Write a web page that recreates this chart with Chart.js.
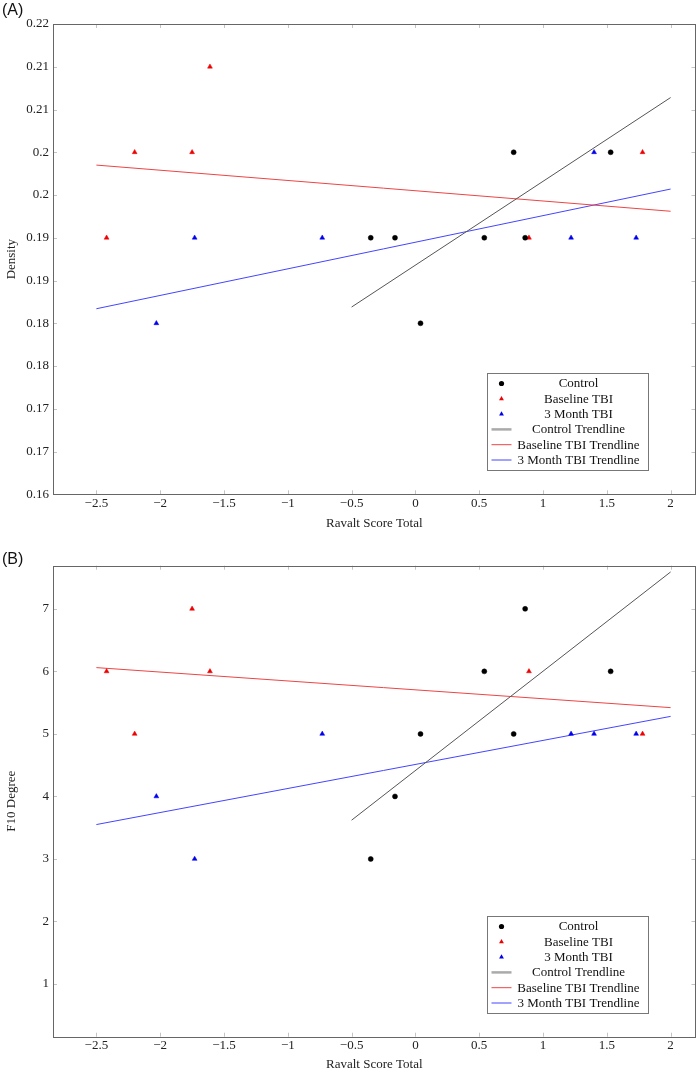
<!DOCTYPE html>
<html>
<head>
<meta charset="utf-8">
<script src="https://cdn.jsdelivr.net/npm/chart.js@4.4.1/dist/chart.umd.min.js"></script>
<style>
  body { margin: 0; background: #fff; }
  #page { position: relative; width: 700px; height: 1072px; overflow: hidden; }
  .panel { position: absolute; left: 0; width: 700px; }
  .tag { position: absolute; left: 2px; font: 16px "Liberation Sans", Arial, sans-serif; color: #111; }
</style>
</head>
<body>
<div id="page">
  <div class="panel" style="top:0;height:536px"><canvas id="chartA"></canvas></div>
  <div class="panel" style="top:530px;height:542px"><canvas id="chartB"></canvas></div>
  <div class="tag" style="top:1px">(A)</div>
  <div class="tag" style="top:550px">(B)</div>
</div>
<script>
// Ravalt scores (x) per group, same subjects in both panels
const xControl = [-0.35, -0.16, 0.04, 0.54, 0.77, 0.86, 1.53];
const xBaseline = [-2.42, -2.20, -1.75, -1.61, 0.89, 1.78];
const xMonth = [-2.03, -1.73, -0.73, 1.22, 1.40, 1.73];

// panel A - density
const densityControl = [0.19, 0.19, 0.18, 0.19, 0.20, 0.19, 0.20];
const densityBaseline = [0.19, 0.20, 0.20, 0.21, 0.19, 0.20];
const densityMonth = [0.18, 0.19, 0.19, 0.19, 0.20, 0.19];

// panel B - F10 degree
const degreeControl = [3, 4, 5, 6, 5, 7, 6];
const degreeBaseline = [6, 5, 7, 6, 6, 5];
const degreeMonth = [4, 3, 5, 5, 5, 5];

// trendline end points
const trendControlX = [-0.5, 2];
const trendTbiX = [-2.5, 2];
const densityTrendControl = [0.1819, 0.2064];
const densityTrendBaseline = [0.1985, 0.1931];
const densityTrendMonth = [0.1817, 0.1957];
const degreeTrendControl = [3.62, 7.59];
const degreeTrendBaseline = [6.06, 5.42];
const degreeTrendMonth = [3.55, 5.28];

// ticks
const xTickValues = [-2.5, -2, -1.5, -1, -0.5, 0, 0.5, 1, 1.5, 2];
const xTickLabels = ['\u22122.5', '\u22122', '\u22121.5', '\u22121', '\u22120.5', '0', '0.5', '1', '1.5', '2'];
const densityTickValues = [0.16, 0.165, 0.17, 0.175, 0.18, 0.185, 0.19, 0.195, 0.2, 0.205, 0.21, 0.215];
const densityTickLabels = ['0.16', '0.17', '0.17', '0.18', '0.18', '0.19', '0.19', '0.2', '0.2', '0.21', '0.21', '0.22'];
const degreeTickValues = [1, 2, 3, 4, 5, 6, 7];
const degreeTickLabels = ['1', '2', '3', '4', '5', '6', '7'];

const serif = '"Liberation Serif", "Times New Roman", serif';
const pts = (xs, ys) => xs.map((x, i) => ({ x: x, y: ys[i] }));

// frame, inward ticks and the boxed legend inside the plot
const framePlugin = {
    id: 'frame',
    afterDraw(chart) {
        const ctx = chart.ctx;
        const ca = chart.chartArea;
        const xs = chart.scales.x, ys = chart.scales.y;
        ctx.save();
        ctx.strokeStyle = '#c4c4c4';
        ctx.lineWidth = 1;
        ctx.beginPath();
        xs.ticks.forEach(t => {
            const px = Math.round(xs.getPixelForValue(t.value)) + 0.5;
            ctx.moveTo(px, ca.bottom); ctx.lineTo(px, ca.bottom - 4);
            ctx.moveTo(px, ca.top); ctx.lineTo(px, ca.top + 4);
        });
        ys.ticks.forEach(t => {
            const py = Math.round(ys.getPixelForValue(t.value)) + 0.5;
            ctx.moveTo(ca.left, py); ctx.lineTo(ca.left + 4, py);
            ctx.moveTo(ca.right, py); ctx.lineTo(ca.right - 4, py);
        });
        ctx.stroke();

        ctx.strokeStyle = '#666';
        ctx.strokeRect(Math.round(ca.left) + 0.5, Math.round(ca.top) + 0.5,
            Math.round(ca.right - ca.left) - 1, Math.round(ca.bottom - ca.top));

        // legend
        const bw = 161, bh = 97;
        const bx = Math.round(ca.right - 48 - bw) + 0.5;
        const by = Math.round(ca.bottom - 24 - bh) + 0.5;
        ctx.fillStyle = '#fff';
        ctx.fillRect(bx, by, bw, bh);
        ctx.strokeStyle = '#777';
        ctx.strokeRect(bx, by, bw, bh);
        ctx.font = '13px ' + serif;
        ctx.textAlign = 'center';
        ctx.textBaseline = 'middle';
        chart.data.datasets.forEach((ds, i) => {
            const y = by + 10 + i * 15.3;
            const mx = bx + 14;
            if (ds.showLine) {
                ctx.strokeStyle = ds.legendColor || ds.borderColor;
                ctx.lineWidth = ds.legendWidth || 1;
                ctx.beginPath();
                ctx.moveTo(bx + 4, y); ctx.lineTo(bx + 24, y);
                ctx.stroke();
            } else {
                ctx.fillStyle = ds.backgroundColor;
                ctx.beginPath();
                if (ds.pointStyle === 'circle') {
                    ctx.arc(mx, y, 2.6, 0, Math.PI * 2);
                } else {
                    const r = 2.8;
                    ctx.moveTo(mx, y - r);
                    ctx.lineTo(mx + r * 0.866, y + r * 0.5);
                    ctx.lineTo(mx - r * 0.866, y + r * 0.5);
                    ctx.closePath();
                }
                ctx.fill();
            }
            ctx.fillStyle = '#111';
            ctx.fillText(ds.label, bx + 91, y + 0.5);
        });
        ctx.restore();
    }
};

function makeChart(id, c) {
    const tickFont = { family: serif, size: 13 };
    const noGrid = { display: false, drawTicks: false, tickLength: 0 };
    new Chart(document.getElementById(id), {
        type: 'scatter',
        data: {
            datasets: [
                { label: 'Control', data: pts(xControl, c.control), pointStyle: 'circle', pointRadius: 2.5,
                  backgroundColor: '#000', borderColor: '#000', borderWidth: 0.5 },
                { label: 'Baseline TBI', data: pts(xBaseline, c.baseline), pointStyle: 'triangle', pointRadius: 2.8,
                  backgroundColor: '#e00', borderColor: '#e00', borderWidth: 0.5 },
                { label: '3 Month TBI', data: pts(xMonth, c.month), pointStyle: 'triangle', pointRadius: 2.8,
                  backgroundColor: '#00e', borderColor: '#00e', borderWidth: 0.5 },
                { label: 'Control Trendline', data: pts(trendControlX, c.trendControl), showLine: true, pointRadius: 0,
                  borderColor: '#555', borderWidth: 1, legendColor: '#aaa', legendWidth: 2.5 },
                { label: 'Baseline TBI Trendline', data: pts(trendTbiX, c.trendBaseline), showLine: true, pointRadius: 0,
                  borderColor: '#e44', borderWidth: 1 },
                { label: '3 Month TBI Trendline', data: pts(trendTbiX, c.trendMonth), showLine: true, pointRadius: 0,
                  borderColor: '#44f', borderWidth: 1 }
            ]
        },
        options: {
            animation: false,
            responsive: true,
            maintainAspectRatio: false,
            devicePixelRatio: 1,
            layout: { padding: { top: c.padTop, right: 2, left: 0, bottom: 0 } },
            plugins: { legend: { display: false }, tooltip: { enabled: false } },
            scales: {
                x: {
                    type: 'linear', min: -2.84, max: 2.195,
                    grid: noGrid, border: { display: false },
                    afterBuildTicks: s => { s.ticks = xTickValues.map(v => ({ value: v })); },
                    afterFit: s => { s.height = c.axisH; },
                    ticks: { callback: (v, i) => xTickLabels[i], font: tickFont, color: '#222', padding: 1,
                             maxRotation: 0, autoSkip: false },
                    title: { display: true, text: 'Ravalt Score Total', font: tickFont, color: '#222',
                             padding: { top: 0, bottom: c.titlePad } }
                },
                y: {
                    type: 'linear', min: c.yMin, max: c.yMax,
                    grid: noGrid, border: { display: false },
                    afterBuildTicks: s => { s.ticks = c.yTicks.map(v => ({ value: v })); },
                    afterFit: s => { s.width = 53; },
                    ticks: { callback: (v, i) => c.yTickLabels[i], font: tickFont, color: '#222', padding: 4,
                             autoSkip: false },
                    title: { display: true, text: c.yLabel, font: tickFont, color: '#222',
                             padding: { top: 4, bottom: 0 } }
                }
            }
        },
        plugins: [framePlugin]
    });
}

makeChart('chartA', {
    yLabel: 'Density', yMin: 0.16, yMax: 0.215,
    yTicks: densityTickValues, yTickLabels: densityTickLabels,
    control: densityControl, baseline: densityBaseline, month: densityMonth,
    trendControl: densityTrendControl, trendBaseline: densityTrendBaseline, trendMonth: densityTrendMonth,
    padTop: 24, axisH: 41.7, titlePad: 5
});

makeChart('chartB', {
    yLabel: 'F10 Degree', yMin: 0.157, yMax: 7.69,
    yTicks: degreeTickValues, yTickLabels: degreeTickLabels,
    control: degreeControl, baseline: degreeBaseline, month: degreeMonth,
    trendControl: degreeTrendControl, trendBaseline: degreeTrendBaseline, trendMonth: degreeTrendMonth,
    padTop: 35.7, axisH: 35.3, titlePad: 0
});
</script>
</body>
</html>
